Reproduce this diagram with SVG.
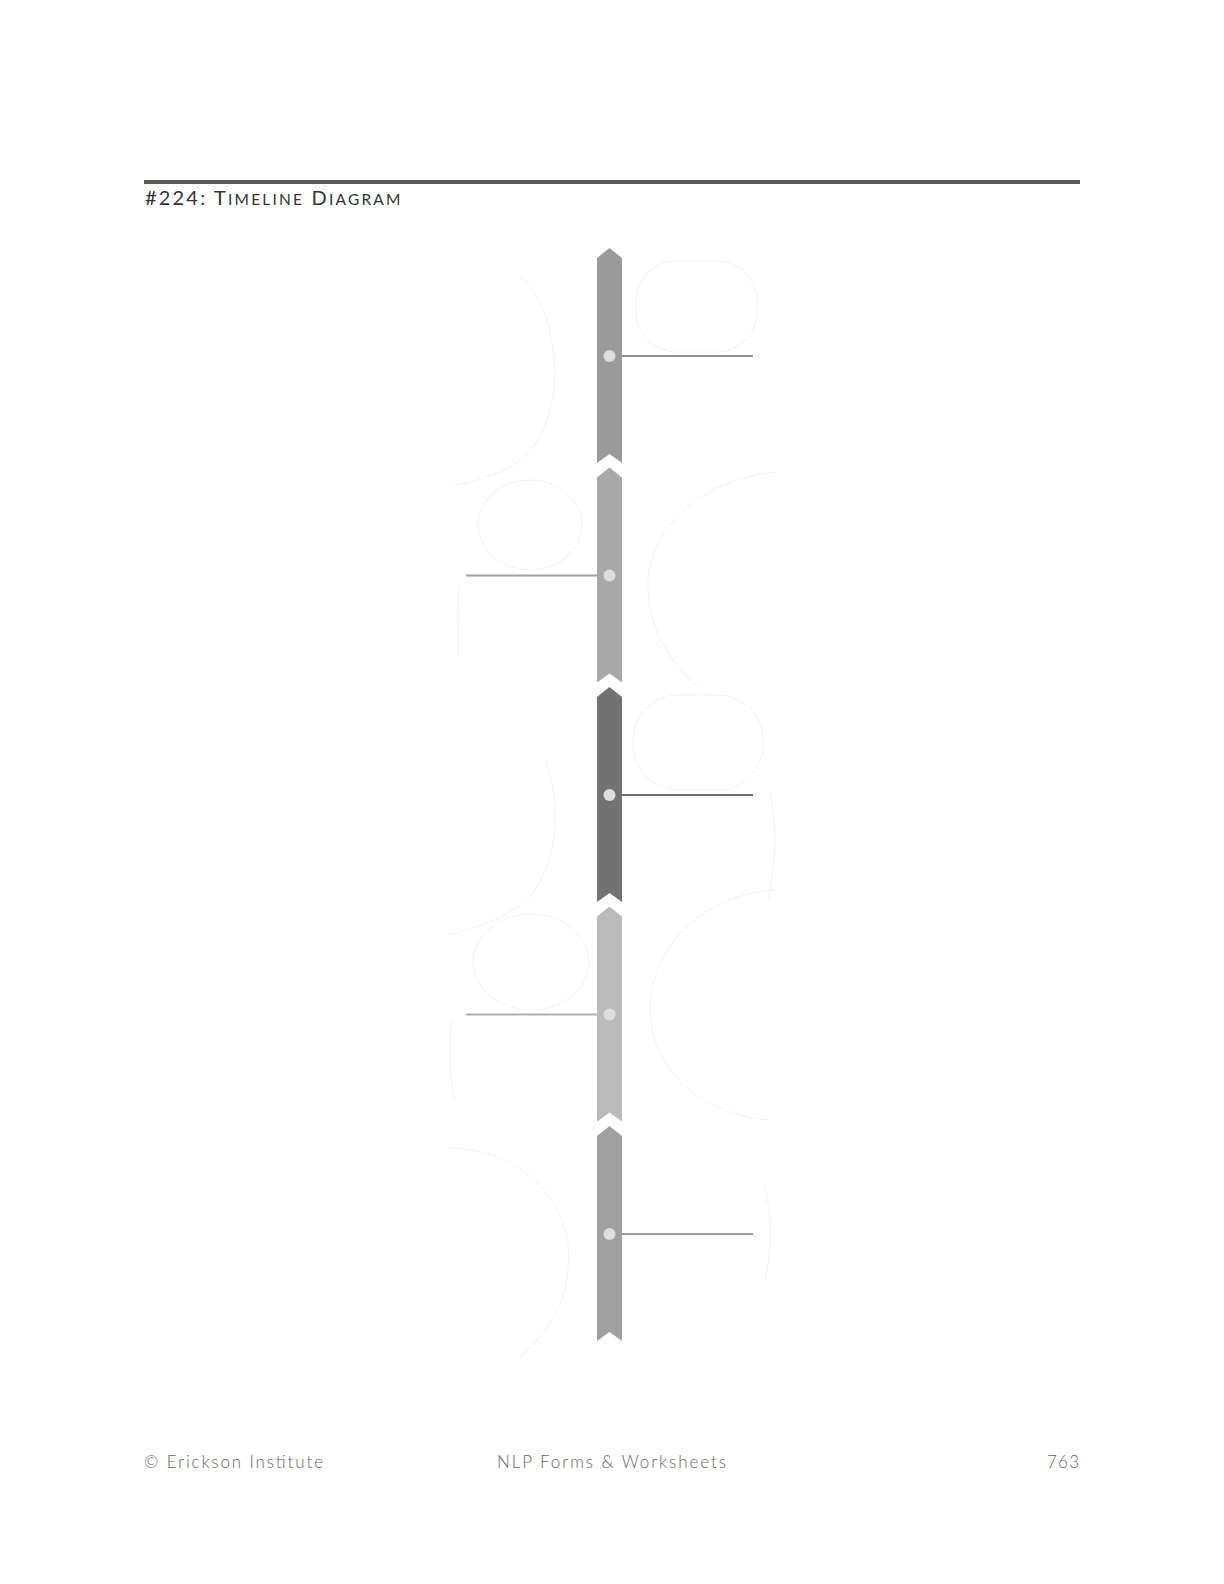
<svg xmlns="http://www.w3.org/2000/svg" width="1224" height="1584" viewBox="0 0 1224 1584">
<style>
.faint{fill:none;stroke:#f3f3f3;stroke-width:1}
.dot{fill:#dddddd}
.conn{stroke-width:2;fill:none}
.hdr{font-family:Lato,"Open Sans","DejaVu Sans",sans-serif;fill:#333333;letter-spacing:1.6px}
.ftr{font-family:Lato,"Open Sans","DejaVu Sans",sans-serif;fill:#666666;font-size:17px;font-weight:300}
</style>
<rect width="1224" height="1584" fill="#ffffff"/>
<g id="header">
<rect x="144" y="180" width="936" height="4" fill="#5a5a5a"/>
<text class="hdr" x="145" y="205" font-size="20" textLength="257" lengthAdjust="spacing">#224: T<tspan font-size="15.5">IMELINE</tspan> D<tspan font-size="15.5">IAGRAM</tspan></text>
</g>
<g id="background-shapes">
<rect class="faint" x="636" y="261" width="121" height="91" rx="40"/>
<path class="faint" d="M520,275 C560,310 572,420 520,460 C500,475 470,483 452,486"/>
<ellipse class="faint" cx="530" cy="525" rx="52" ry="45"/>
<path class="faint" d="M460,585 C455,610 460,640 458,655"/>
<path class="faint" d="M775,472 C700,480 645,530 648,590 C650,640 680,670 700,690"/>
<rect class="faint" x="633" y="695" width="130" height="95" rx="45"/>
<path class="faint" d="M770,790 C778,830 775,870 768,900"/>
<path class="faint" d="M545,760 C565,810 555,880 520,905 C500,920 470,930 450,935"/>
<ellipse class="faint" cx="531" cy="962" rx="58" ry="48"/>
<path class="faint" d="M452,1020 C448,1050 450,1080 455,1100"/>
<path class="faint" d="M775,890 C700,895 650,950 650,1010 C652,1070 700,1115 770,1120"/>
<path class="faint" d="M450,1148 C530,1150 575,1210 568,1270 C565,1310 540,1340 520,1357"/>
<path class="faint" d="M765,1185 C772,1220 772,1250 765,1280"/>
</g>
<g id="connectors">
<line class="conn" x1="622" y1="356" x2="753" y2="356" stroke="#8e8e8e"/>
<line class="conn" x1="466" y1="575.5" x2="597" y2="575.5" stroke="#a0a0a0"/>
<line class="conn" x1="622" y1="795" x2="753" y2="795" stroke="#6e6e6e"/>
<line class="conn" x1="466" y1="1014.5" x2="597" y2="1014.5" stroke="#b0b0b0"/>
<line class="conn" x1="622" y1="1234" x2="753" y2="1234" stroke="#9a9a9a"/>
</g>
<g id="segment-1">
<path d="M597,258 L609.5,248 L622,258 L622,463 L609.5,454 L597,463 Z" fill="#9a9a9a"/>
<circle class="dot" cx="609.5" cy="356" r="6"/>
</g>
<g id="segment-2">
<path d="M597,477.5 L609.5,467.5 L622,477.5 L622,682.5 L609.5,673.5 L597,682.5 Z" fill="#a8a8a8"/>
<circle class="dot" cx="609.5" cy="575.5" r="6"/>
</g>
<g id="segment-3">
<path d="M597,697 L609.5,687 L622,697 L622,902 L609.5,893 L597,902 Z" fill="#727272"/>
<circle class="dot" cx="609.5" cy="795" r="6"/>
</g>
<g id="segment-4">
<path d="M597,916.5 L609.5,906.5 L622,916.5 L622,1121.5 L609.5,1112.5 L597,1121.5 Z" fill="#bababa"/>
<circle class="dot" cx="609.5" cy="1014.5" r="6"/>
</g>
<g id="segment-5">
<path d="M597,1136 L609.5,1126 L622,1136 L622,1341 L609.5,1332 L597,1341 Z" fill="#a0a0a0"/>
<circle class="dot" cx="609.5" cy="1234" r="6"/>
</g>
<g id="footer">
<text class="ftr" x="144" y="1468" textLength="179" lengthAdjust="spacing">© Erickson Institute</text>
<text class="ftr" x="497" y="1468" textLength="229" lengthAdjust="spacing">NLP Forms &amp; Worksheets</text>
<text class="ftr" x="1047" y="1468" textLength="32" lengthAdjust="spacing">763</text>
</g>
</svg>
